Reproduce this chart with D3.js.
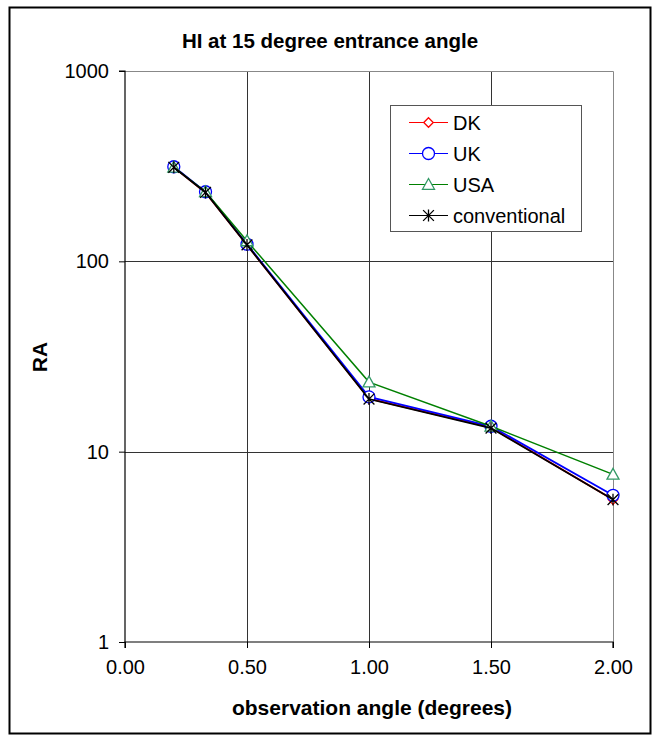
<!DOCTYPE html>
<html>
<head>
<meta charset="utf-8">
<script src="https://cdn.jsdelivr.net/npm/d3@7"></script>
<style>
  html, body { margin: 0; padding: 0; background: #fff; }
  svg { display: block; font-family: "Liberation Sans", Arial, sans-serif; }
</style>
</head>
<body>
<svg id="chart" width="656" height="736"></svg>
<script>
// Observation angles (degrees)
const angles = [0.2, 0.33, 0.5, 1.0, 1.5, 2.0];

// RA values per series
const dk = [312, 230, 122, 19.0, 13.4, 5.6];
const uk = [314, 232, 123, 19.4, 13.6, 5.9];
const usa = [312, 232, 128, 23.2, 13.6, 7.6];
const conventional = [312, 230, 122, 18.9, 13.3, 5.6];

const seriesNames = ["DK", "UK", "USA", "conventional"];
const xTicks = [0, 0.5, 1.0, 1.5, 2.0];
const yTicks = [1, 10, 100, 1000];

const series = [
  { name: seriesNames[0], values: dk, line: "#ff0000", mark: "#ff0000", shape: "diamond", lw: 1.8 },
  { name: seriesNames[1], values: uk, line: "#0000ff", mark: "#0000ff", shape: "circle", lw: 1.8 },
  { name: seriesNames[2], values: usa, line: "#008000", mark: "#339966", shape: "triangle", lw: 1.5 },
  { name: seriesNames[3], values: conventional, line: "#000000", mark: "#000000", shape: "star", lw: 1.8 }
];

const svg = d3.select("#chart");
const L = 125, R = 613, T = 71, B = 642;

const x = d3.scaleLinear().domain([0, 2]).range([L, R]);
const y = d3.scaleLog().domain([1, 1000]).range([B, T]);

// outer chart frame
svg.append("rect")
  .attr("x", 9.5).attr("y", 7.5).attr("width", 641).attr("height", 726)
  .attr("fill", "#fff").attr("stroke", "#000").attr("stroke-width", 2);

// title
svg.append("text")
  .attr("x", 330).attr("y", 48)
  .attr("text-anchor", "middle")
  .attr("font-weight", "bold").attr("font-size", 20.5)
  .text("HI at 15 degree entrance angle");

// gridlines
const grid = svg.append("g");
grid.selectAll("line.h").data(yTicks.filter(v => v > 1 && v < 1000)).enter()
  .append("line")
  .attr("x1", L).attr("x2", R)
  .attr("y1", d => Math.round(y(d)) + 0.5).attr("y2", d => Math.round(y(d)) + 0.5)
  .attr("stroke", "#333").attr("stroke-width", 1);
grid.selectAll("line.v").data(xTicks.filter(v => v > 0 && v < 2)).enter()
  .append("line")
  .attr("y1", T).attr("y2", B)
  .attr("x1", d => Math.round(x(d)) + 0.5).attr("x2", d => Math.round(x(d)) + 0.5)
  .attr("stroke", "#333").attr("stroke-width", 1);

// plot border on top and right
svg.append("polyline")
  .attr("points", `${L},${T + 0.5} ${Math.round(R) + 0.5},${T + 0.5} ${Math.round(R) + 0.5},${B}`)
  .attr("fill", "none").attr("stroke", "#888").attr("stroke-width", 1);

// axes
const yAxis = d3.axisLeft(y).tickValues(yTicks).tickFormat(d3.format("d")).tickSize(6).tickPadding(10);
const xAxis = d3.axisBottom(x).tickValues(xTicks).tickFormat(d3.format(".2f")).tickSize(6).tickPadding(12);

const gy = svg.append("g").attr("transform", `translate(${L},0)`).call(yAxis);
const gx = svg.append("g").attr("transform", `translate(0,${B})`).call(xAxis);
[gy, gx].forEach(g => {
  g.select(".domain").attr("stroke", "#000").attr("stroke-width", 1.2);
  g.selectAll(".tick line").attr("stroke", "#000").attr("stroke-width", 1);
  g.selectAll(".tick text").attr("fill", "#000").attr("font-size", 20)
    .attr("font-family", "'Liberation Sans', Arial, sans-serif");
});
gy.select(".domain").attr("d", `M-6,${T}H0V${B}`);
gx.select(".domain").attr("d", `M${L},6V0H${R}V6`);

// axis titles
svg.append("text")
  .attr("x", 372).attr("y", 715)
  .attr("text-anchor", "middle")
  .attr("font-weight", "bold").attr("font-size", 21)
  .text("observation angle (degrees)");
svg.append("text")
  .attr("transform", "translate(47,357) rotate(-90)")
  .attr("text-anchor", "middle")
  .attr("font-weight", "bold").attr("font-size", 21)
  .text("RA");

// marker drawing
function drawMarker(g, shape, color, size) {
  if (shape === "diamond") {
    g.append("path").attr("d", d3.symbol(d3.symbolDiamond2, size * size * 1.6)())
      .attr("fill", "#fff").attr("stroke", color).attr("stroke-width", 1.3);
  } else if (shape === "circle") {
    g.append("circle").attr("r", size)
      .attr("fill", "#fff").attr("stroke", color).attr("stroke-width", 1.3);
  } else if (shape === "triangle") {
    const s = size;
    g.append("path").attr("d", `M0,${-s}L${s},${s * 0.8}L${-s},${s * 0.8}Z`)
      .attr("fill", "#fff").attr("stroke", color).attr("stroke-width", 1.3);
  } else if (shape === "star") {
    const s = size * 0.9;
    g.append("path").attr("d", `M${-s},${-s}L${s},${s}M${-s},${s}L${s},${-s}M0,${-s * 1.1}L0,${s * 1.1}`)
      .attr("fill", "none").attr("stroke", color).attr("stroke-width", 1.3);
  }
}

const line = d3.line().x(d => x(d[0])).y(d => y(d[1]));

series.forEach(s => {
  const pts = angles.map((a, i) => [a, s.values[i]]);
  const g = svg.append("g");
  g.append("path").datum(pts).attr("d", line)
    .attr("fill", "none").attr("stroke", s.line).attr("stroke-width", s.lw);
  pts.forEach(p => {
    const m = g.append("g").attr("transform", `translate(${x(p[0])},${y(p[1])})`);
    drawMarker(m, s.shape, s.mark, 6);
  });
});

// legend
const lg = svg.append("g");
lg.append("rect")
  .attr("x", 390.5).attr("y", 105.5).attr("width", 191).attr("height", 126)
  .attr("fill", "#fff").attr("stroke", "#555").attr("stroke-width", 1);
series.forEach((s, i) => {
  const cy = 122.5 + i * 31;
  const row = lg.append("g").attr("transform", `translate(0,${cy})`);
  row.append("line").attr("x1", 409).attr("x2", 448).attr("y1", 0).attr("y2", 0)
    .attr("stroke", s.line).attr("stroke-width", 1);
  const m = row.append("g").attr("transform", "translate(428.5,0)");
  drawMarker(m, s.shape, s.mark, 6);
  row.append("text").attr("x", 453).attr("y", 0).attr("dy", "0.35em")
    .attr("font-size", 20).text(s.name);
});
</script>
</body>
</html>
